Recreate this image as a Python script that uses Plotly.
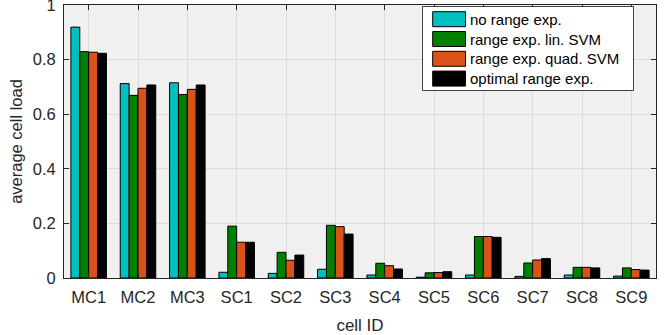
import plotly.graph_objects as go

# Cell identifiers (macro cells and small cells)
cells = ["MC1", "MC2", "MC3", "SC1", "SC2", "SC3", "SC4", "SC5", "SC6", "SC7", "SC8", "SC9"]

# Average cell load per scheme
no_range_exp = [0.919, 0.712, 0.715, 0.021, 0.017, 0.032, 0.011, 0.003, 0.011, 0.006, 0.011, 0.007]
lin_svm = [0.829, 0.669, 0.672, 0.190, 0.094, 0.193, 0.054, 0.019, 0.152, 0.055, 0.039, 0.037]
quad_svm = [0.827, 0.695, 0.691, 0.131, 0.065, 0.188, 0.045, 0.020, 0.152, 0.066, 0.039, 0.031]
optimal = [0.823, 0.707, 0.707, 0.131, 0.084, 0.161, 0.033, 0.023, 0.149, 0.071, 0.037, 0.029]

series_names = ["no range exp.", "range exp. lin. SVM", "range exp. quad. SVM", "optimal range exp."]
series_values = [no_range_exp, lin_svm, quad_svm, optimal]
colors = ["#00bfbf", "#008000", "#d95319", "#000000"]

y_ticks = [0, 0.2, 0.4, 0.6, 0.8, 1.0]
y_ticktext = ["0", "0.2", "0.4", "0.6", "0.8", "1"]

W, H = 667, 335
ML, MR, MT, MB = 64, 11, 5, 57
PW, PH = W - ML - MR, H - MT - MB
FONT = "Liberation Sans, Arial, Helvetica, sans-serif"
AXIS_COLOR = "#262626"

fig = go.Figure()
for name, vals, col in zip(series_names, series_values, colors):
    fig.add_trace(go.Bar(
        x=cells, y=vals, name=name,
        marker=dict(color=col, line=dict(color="#000000", width=1)),
        showlegend=False,
    ))

axis_common = dict(
    showline=True, linecolor=AXIS_COLOR, linewidth=1, mirror="ticks",
    ticks="inside", ticklen=5, tickcolor=AXIS_COLOR,
    showgrid=True, gridcolor="#dcdcdc", gridwidth=1,
    tickfont=dict(family=FONT, size=16.5, color=AXIS_COLOR),
    zeroline=False, ticklabeloverflow="allow", automargin=False,
)

fig.update_layout(
    width=W, height=H,
    margin=dict(l=ML, r=MR, t=MT, b=MB),
    paper_bgcolor="white", plot_bgcolor="#f0f0f0",
    barmode="group", bargap=0.28, bargroupgap=0,
    font=dict(family=FONT, color=AXIS_COLOR),
    xaxis=dict(
        **axis_common, type="category", range=[-0.5, len(cells) - 0.5],
        ticklabelstandoff=4,
        title=dict(text="cell ID", font=dict(family=FONT, size=17, color=AXIS_COLOR), standoff=17),
    ),
    yaxis=dict(
        **axis_common, range=[0, 1], tickvals=y_ticks, ticktext=y_ticktext,
        ticklabelstandoff=4,
        title=dict(text="average cell load", font=dict(family=FONT, size=16.5, color=AXIS_COLOR), standoff=5),
    ),
)

# Legend drawn as a boxed panel with wide colour swatches
def px_x(x):
    return (x - ML) / PW

def px_y(y):
    return 1 - (y - MT) / PH

shapes = [dict(type="rect", xref="paper", yref="paper",
               x0=px_x(422.5), x1=px_x(633.5), y0=px_y(90.5), y1=px_y(6.5),
               fillcolor="white", line=dict(color="#404040", width=1), layer="above")]
annotations = []
for i, (name, col) in enumerate(zip(series_names, colors)):
    top = 11.7 + i * 19.8
    shapes.append(dict(type="rect", xref="paper", yref="paper",
                       x0=px_x(432.7), x1=px_x(465.5), y0=px_y(top + 15), y1=px_y(top),
                       fillcolor=col, line=dict(color="#000000", width=1), layer="above"))
    annotations.append(dict(xref="paper", yref="paper", x=px_x(468), y=px_y(top + 7.5),
                            text=name, showarrow=False, xanchor="left", yanchor="middle",
                            font=dict(family=FONT, size=15, color="#000000")))

fig.update_layout(shapes=shapes, annotations=annotations)

fig.write_html("out.html")
